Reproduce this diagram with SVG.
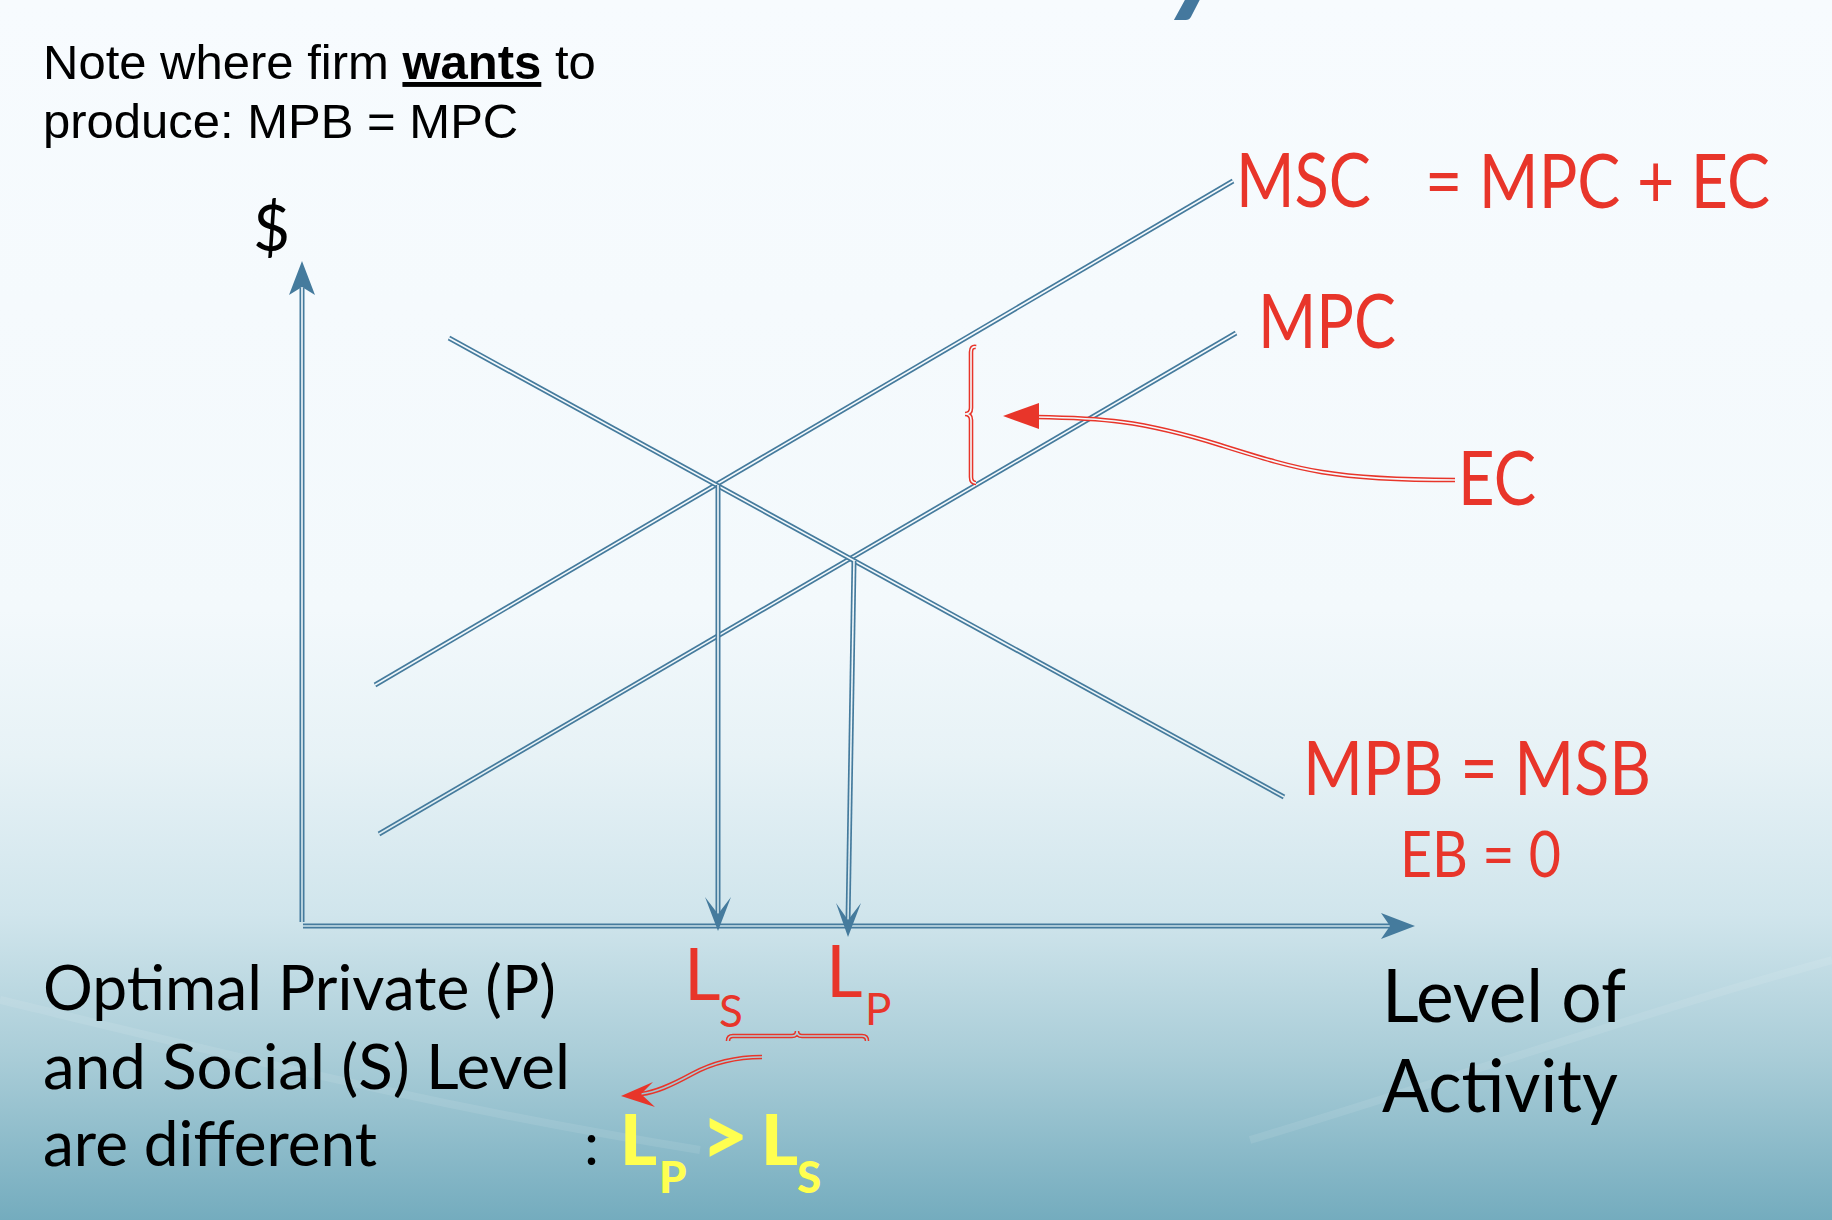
<svg xmlns="http://www.w3.org/2000/svg" xmlns:xlink="http://www.w3.org/1999/xlink" width="1832" height="1220" viewBox="0 0 1832 1220">
<style>
.outer{fill:none;stroke:#457b9d;stroke-width:5}
.gap{fill:none;stroke:url(#bg);stroke-width:1.6}
.router{fill:none;stroke:#e8352a;stroke-width:4.6}
.blueHead{fill:#457b9d}
.redHead{fill:#e8352a}
.note{font-family:"Liberation Sans",Arial,sans-serif;font-size:49px;fill:#000}
.red{font-family:Lato,"Noto Sans",sans-serif;fill:#e8352a}
.blk{font-family:Lato,"Noto Sans",sans-serif;fill:#000}
.yel{font-family:Lato,"Noto Sans",sans-serif;font-weight:900;fill:#ffff50}
</style>
<defs>
<linearGradient id="bg" gradientUnits="userSpaceOnUse" x1="0" y1="0" x2="0" y2="1220">
<stop offset="0" stop-color="#f7fbfe"/>
<stop offset="0.5" stop-color="#f3f9fc"/>
<stop offset="0.62" stop-color="#e7f2f6"/>
<stop offset="0.75" stop-color="#d0e5ec"/>
<stop offset="0.87" stop-color="#a8ccd7"/>
<stop offset="1" stop-color="#74acbe"/>
</linearGradient>
<path id="msc" d="M375,685 L1233,181"/>
<path id="mpc" d="M379,834 L1236,333"/>
<path id="mpb" d="M449,338 L1284,797"/>
<path id="yax" d="M302,922 L302,288"/>
<path id="xax" d="M303,926 L1392,926"/>
<path id="dropS" d="M718,485 L718,916"/>
<path id="dropP" d="M854,561 L848,922"/>
<path id="ecBrace" d="M976,347 Q971,346 971,352 L971,408 Q971,414 965,414 Q971,414 971,420 L971,477 Q971,483 976,483"/>
<path id="ecArrow" d="M1455,480 C1330,480 1300,470 1220,445 C1140,420 1100,418 1036,417"/>
<path id="lBrace" d="M728,1041 Q728,1036 733,1036 L792,1036 Q797,1036 797,1031 Q797,1036 802,1036 L862,1036 Q867,1036 867,1041"/>
<path id="lArrow" d="M762,1057 C740,1057 714,1062 692,1074 C670,1086 656,1092 641,1094"/>
</defs>
<rect x="0" y="0" width="1832" height="1220" fill="url(#bg)"/>
<path d="M0,1000 C250,1060 450,1110 700,1150" fill="none" stroke="#ffffff" stroke-opacity="0.09" stroke-width="8"/>
<path d="M1250,1140 C1450,1080 1650,1010 1832,960" fill="none" stroke="#ffffff" stroke-opacity="0.09" stroke-width="8"/>

<text x="1168" y="-2" font-family="Lato,sans-serif" font-style="italic" font-weight="bold" font-size="130" fill="#44789e">y</text>

<g id="connectors">
<use xlink:href="#msc" class="outer"/><use xlink:href="#msc" class="gap"/>
<use xlink:href="#mpc" class="outer"/><use xlink:href="#mpc" class="gap"/>
<use xlink:href="#mpb" class="outer"/><use xlink:href="#mpb" class="gap"/>
<use xlink:href="#yax" class="outer"/><use xlink:href="#yax" class="gap"/>
<polygon class="blueHead" points="302,261 315,295 302,287 289,295"/>
<use xlink:href="#xax" class="outer"/><use xlink:href="#xax" class="gap"/>
<polygon class="blueHead" points="1415,926 1381,913 1390,926 1381,939"/>
<use xlink:href="#dropS" class="outer"/><use xlink:href="#dropS" class="gap"/>
<polygon class="blueHead" points="718,931 705,897 718,914 731,897"/>
<use xlink:href="#dropP" class="outer"/><use xlink:href="#dropP" class="gap"/>
<polygon class="blueHead" points="848,937 836,903 848,920 861,903"/>
<use xlink:href="#ecBrace" class="router"/><use xlink:href="#ecBrace" class="gap"/>
<use xlink:href="#ecArrow" class="router"/><use xlink:href="#ecArrow" class="gap"/>
<polygon class="redHead" points="1003,416 1039,403 1039,429"/>
<use xlink:href="#lBrace" class="router"/><use xlink:href="#lBrace" class="gap"/>
<use xlink:href="#lArrow" class="router"/><use xlink:href="#lArrow" class="gap"/>
<polygon class="redHead" points="621,1096 653,1082 641,1094 655,1107"/>
</g>

<g id="note">
<text class="note" x="43" y="79">Note where firm <tspan font-weight="bold" text-decoration="underline">wants</tspan> to</text>
<text class="note" x="43" y="138">produce: MPB = MPC</text>
</g>
<g id="dollar"><text class="blk" x="253" y="251" font-size="64">$</text></g>
<g id="msc-label"><text class="red" x="1236" y="207" font-size="76" textLength="135" lengthAdjust="spacingAndGlyphs">MSC</text><text class="red" x="1425" y="208" font-size="76" textLength="345" lengthAdjust="spacingAndGlyphs">= MPC + EC</text></g>
<g id="mpc-label"><text class="red" x="1258" y="348" font-size="76" textLength="138" lengthAdjust="spacingAndGlyphs">MPC</text></g>
<g id="ec-label"><text class="red" x="1458" y="505" font-size="76" textLength="78" lengthAdjust="spacingAndGlyphs">EC</text></g>
<g id="mpb-label"><text class="red" x="1303" y="795" font-size="75" textLength="348" lengthAdjust="spacingAndGlyphs">MPB = MSB</text></g>
<g id="eb-label"><text class="red" x="1400" y="877" font-size="64" textLength="161" lengthAdjust="spacingAndGlyphs">EB = 0</text></g>
<g id="ls-label"><text class="red" x="684" y="1000" font-size="71">L</text><text class="red" x="719" y="1027" font-size="44">S</text></g>
<g id="lp-label"><text class="red" x="826" y="997" font-size="71">L</text><text class="red" x="865" y="1025" font-size="44">P</text></g>
<g id="optimal">
<text class="blk" x="43" y="1010" font-size="61" textLength="513" lengthAdjust="spacingAndGlyphs">Optimal Private (P)</text>
<text class="blk" x="43" y="1089" font-size="61" textLength="527" lengthAdjust="spacingAndGlyphs">and Social (S) Level</text>
<text class="blk" x="43" y="1166" font-size="61" textLength="334" lengthAdjust="spacingAndGlyphs">are different</text>
</g>
<g id="result">
<text class="blk" x="584" y="1165" font-size="60">:</text>
<text class="yel" x="620" y="1165" font-size="71">L</text>
<text class="yel" x="659" y="1193" font-size="44">P</text>
<text class="yel" x="701" y="1165" font-size="82">&gt;</text>
<text class="yel" x="761" y="1165" font-size="71">L</text>
<text class="yel" x="797" y="1193" font-size="44">S</text>
</g>
<g id="level"><text class="blk" x="1382" y="1022" font-size="74" textLength="244" lengthAdjust="spacingAndGlyphs">Level of</text><text class="blk" x="1382" y="1112" font-size="74" textLength="236" lengthAdjust="spacingAndGlyphs">Activity</text></g>
</svg>
